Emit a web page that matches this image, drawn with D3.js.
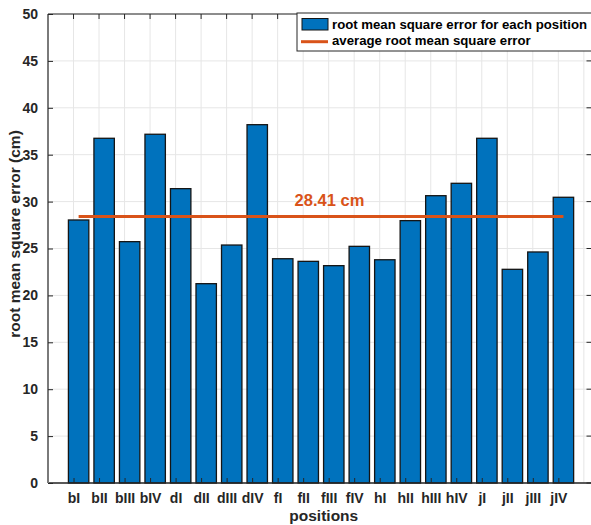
<!DOCTYPE html>
<html>
<head>
<meta charset="utf-8">
<script src="https://cdn.jsdelivr.net/npm/d3@7"></script>
<style>
  html, body { margin: 0; padding: 0; background: #fff; }
  svg { display: block; font-family: "Liberation Sans", Arial, Helvetica, sans-serif; }
</style>
</head>
<body>
<svg id="chart" width="591" height="525"></svg>
<script>
const categories = ["bI","bII","bIII","bIV","dI","dII","dIII","dIV","fI","fII","fIII","fIV","hI","hII","hIII","hIV","jI","jII","jIII","jIV"];
const rmseValues = [28.04, 36.75, 25.73, 37.18, 31.38, 21.25, 25.37, 38.2, 23.91, 23.63, 23.17, 25.23, 23.8, 27.97, 30.63, 31.95, 36.75, 22.78, 24.63, 30.46];
const averageRmse = 28.41;
const yTicks = [0, 5, 10, 15, 20, 25, 30, 35, 40, 45, 50];
const legendLabels = ["root mean square error for each position", "average root mean square error"];
const xLabel = "positions";
const yLabel = "root mean square error (cm)";
const avgLabel = "28.41 cm";

const svg = d3.select("#chart");
const pL = 48, pR = 591.5, pT = 14, pB = 483;
const blue = "#0072BD", orange = "#D95319";

const x = d3.scaleLinear().domain([0, 21.3]).range([pL, pR]);
const y = d3.scaleLinear().domain([0, 50]).range([pB, pT]);
const barOffset = 0.2, barWidth = 0.8;

// grid
const gridX = d3.range(1, 22);
svg.append("g").selectAll("line").data(gridX).join("line")
  .attr("x1", d => x(d)).attr("x2", d => x(d))
  .attr("y1", pT).attr("y2", pB)
  .attr("stroke", "#e6e6e6").attr("stroke-width", 1);
svg.append("g").selectAll("line").data(yTicks).join("line")
  .attr("x1", pL).attr("x2", pR)
  .attr("y1", d => y(d)).attr("y2", d => y(d))
  .attr("stroke", "#e6e6e6").attr("stroke-width", 1);

// bars
svg.append("g").selectAll("rect").data(rmseValues).join("rect")
  .attr("x", (d, i) => x(i + 1 + barOffset - barWidth / 2))
  .attr("width", x(barWidth) - x(0))
  .attr("y", d => y(d))
  .attr("height", d => y(0) - y(d))
  .attr("fill", blue)
  .attr("stroke", "#151515")
  .attr("stroke-width", 1.3);

// average line
svg.append("line")
  .attr("x1", x(1 + barOffset)).attr("x2", x(categories.length + barOffset))
  .attr("y1", y(averageRmse)).attr("y2", y(averageRmse))
  .attr("stroke", orange).attr("stroke-width", 3);

svg.append("text")
  .attr("x", x(11.03)).attr("y", y(averageRmse) - 10.5)
  .attr("text-anchor", "middle")
  .attr("font-size", "16.5px").attr("font-weight", "bold")
  .attr("fill", orange)
  .text(avgLabel);

// axes box
const axisColor = "#262626";
svg.append("line").attr("x1", pL).attr("x2", pR).attr("y1", pT).attr("y2", pT)
  .attr("stroke", axisColor).attr("stroke-width", 1);
svg.append("line").attr("x1", pL).attr("x2", pR).attr("y1", pB).attr("y2", pB)
  .attr("stroke", axisColor).attr("stroke-width", 1.3);
svg.append("line").attr("x1", pL).attr("x2", pL).attr("y1", pT).attr("y2", pB)
  .attr("stroke", "#7a7a7a").attr("stroke-width", 2);
svg.append("line").attr("x1", pR).attr("x2", pR).attr("y1", pT).attr("y2", pB)
  .attr("stroke", axisColor).attr("stroke-width", 1);

// y axis ticks/labels
const yAxis = d3.axisLeft(y).tickValues(yTicks).tickSize(-5).tickPadding(10).tickFormat(d3.format("d"));
const gy = svg.append("g").attr("transform", `translate(${pL},0)`).call(yAxis);
gy.select(".domain").remove();
gy.selectAll(".tick line").attr("stroke", axisColor);
gy.selectAll(".tick text").attr("font-size", "14px").attr("font-weight", "bold")
  .attr("fill", axisColor).attr("font-family", '"Liberation Sans", Arial, sans-serif');

// right ticks
svg.append("g").selectAll("line").data(yTicks).join("line")
  .attr("x1", pR - 5).attr("x2", pR)
  .attr("y1", d => y(d)).attr("y2", d => y(d))
  .attr("stroke", axisColor);

// x axis ticks/labels
const xAxis = d3.axisBottom(x).tickValues(d3.range(1, categories.length + 1))
  .tickSize(-5).tickPadding(10).tickFormat(d => categories[d - 1]);
const gx = svg.append("g").attr("transform", `translate(0,${pB})`).call(xAxis);
gx.select(".domain").remove();
gx.selectAll(".tick line").attr("stroke", axisColor);
gx.selectAll(".tick text").attr("font-size", "14px").attr("font-weight", "bold")
  .attr("fill", axisColor).attr("font-family", '"Liberation Sans", Arial, sans-serif');
// top ticks
svg.append("g").selectAll("line").data(d3.range(1, categories.length + 1)).join("line")
  .attr("x1", d => x(d)).attr("x2", d => x(d))
  .attr("y1", pT).attr("y2", pT + 5)
  .attr("stroke", axisColor);

// axis labels
svg.append("text")
  .attr("x", (pL + pR) / 2 + 4).attr("y", 521)
  .attr("text-anchor", "middle").attr("font-size", "15.5px").attr("font-weight", "bold")
  .attr("fill", axisColor).text(xLabel);
svg.append("text")
  .attr("transform", `translate(20,234) rotate(-90)`)
  .attr("text-anchor", "middle").attr("font-size", "15.5px").attr("font-weight", "bold")
  .attr("fill", axisColor).text(yLabel);

// legend
const lg = svg.append("g");
lg.append("rect").attr("x", 297).attr("y", 13).attr("width", 300).attr("height", 38)
  .attr("fill", "#fff").attr("stroke", axisColor).attr("stroke-width", 1);
lg.append("rect").attr("x", 302).attr("y", 18.5).attr("width", 26).attr("height", 11.5)
  .attr("fill", blue).attr("stroke", "#151515").attr("stroke-width", 1);
lg.append("line").attr("x1", 301).attr("x2", 328).attr("y1", 41.7).attr("y2", 41.7)
  .attr("stroke", orange).attr("stroke-width", 3);
lg.selectAll("text.leg").data(legendLabels).join("text")
  .attr("class", "leg")
  .attr("x", 332).attr("y", (d, i) => 28.5 + i * 16.5)
  .attr("font-size", "13.2px").attr("font-weight", "bold").attr("fill", "#000")
  .text(d => d);
</script>
</body>
</html>
